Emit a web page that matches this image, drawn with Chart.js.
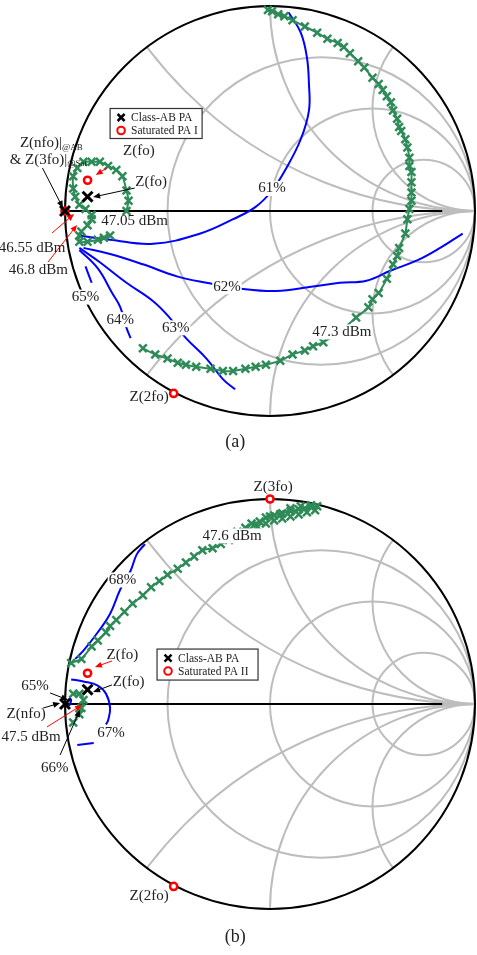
<!DOCTYPE html>
<html>
<head>
<meta charset="utf-8">
<script src="https://cdn.jsdelivr.net/npm/chart.js@4.4.0/dist/chart.umd.min.js"></script>
<style>
  html, body { margin: 0; padding: 0; background: #fff; }
  body { width: 477px; height: 955px; position: relative; overflow: hidden; }
  canvas { position: absolute; left: 0; }
  #smithA { top: 0; }
  #smithB { top: 460px; }
</style>
</head>
<body>
<canvas id="smithA" width="477" height="460"></canvas>
<canvas id="smithB" width="477" height="495"></canvas>
<script>
// Smith chart grid (normalised resistance / reactance circles)
const gridResistance = [1 / 3, 1, 3];
const gridReactance = [0.5, 1, 2];
const realAxisEnd = 0.84;

// ---- Panel (a): reflection coefficient points [re, im] ----
const effA61 = [[0.09,0.97],[0.15,0.87],[0.18,0.75],[0.19,0.62],[0.19,0.49],[0.15,0.35],[0.08,0.21],[0.01,0.10],[-0.07,0.02],[-0.18,-0.04],[-0.34,-0.11],[-0.57,-0.16],[-0.78,-0.14],[-0.93,-0.12]];
const effA62 = [[-0.91,-0.18],[-0.78,-0.21],[-0.62,-0.26],[-0.45,-0.32],[-0.31,-0.35],[-0.13,-0.38],[0.03,-0.39],[0.2,-0.37],[0.34,-0.35],[0.47,-0.34],[0.59,-0.29],[0.72,-0.24],[0.83,-0.18],[0.94,-0.11]];
const effA63 = [[-0.93,-0.18],[-0.83,-0.25],[-0.7,-0.35],[-0.57,-0.44],[-0.49,-0.52],[-0.41,-0.62],[-0.31,-0.72],[-0.23,-0.82],[-0.17,-0.87]];
const effA64 = [[-0.93,-0.19],[-0.84,-0.28],[-0.77,-0.4],[-0.73,-0.47],[-0.7,-0.57],[-0.68,-0.62]];
const effA65 = [[-0.9,-0.27],[-0.87,-0.35]];
const loadPullA1 = [[-0.7,0],[-0.69,0.05],[-0.7,0.1],[-0.72,0.17],[-0.75,0.2],[-0.79,0.22],[-0.83,0.24],[-0.87,0.24],[-0.91,0.24],[-0.94,0.21],[-0.96,0.17],[-0.96,0.11],[-0.95,0.07],[-0.93,0.03],[-0.9,0.01],[-0.87,-0.02],[-0.87,-0.04],[-0.89,-0.07],[-0.92,-0.1],[-0.93,-0.12],[-0.93,-0.15],[-0.89,-0.15],[-0.84,-0.14],[-0.81,-0.13],[-0.78,-0.12]];
const loadPullA2 = [[-0.62,-0.67],[-0.56,-0.7],[-0.5,-0.72],[-0.45,-0.74],[-0.41,-0.75],[-0.36,-0.76],[-0.29,-0.77],[-0.23,-0.78],[-0.18,-0.78],[-0.12,-0.77],[-0.07,-0.76],[-0.02,-0.75],[0.05,-0.73],[0.11,-0.7],[0.17,-0.68],[0.21,-0.66],[0.26,-0.64],[0.34,-0.59],[0.42,-0.52],[0.48,-0.47],[0.5,-0.43],[0.53,-0.4],[0.57,-0.33],[0.6,-0.26],[0.62,-0.22],[0.63,-0.18],[0.66,-0.11],[0.67,-0.04],[0.68,0.01],[0.69,0.05],[0.69,0.09],[0.69,0.14],[0.69,0.19],[0.68,0.22],[0.68,0.26],[0.67,0.31],[0.66,0.35],[0.64,0.39],[0.63,0.41],[0.62,0.45],[0.6,0.49],[0.59,0.53],[0.57,0.56],[0.55,0.59],[0.53,0.62],[0.5,0.65],[0.46,0.7],[0.43,0.73],[0.39,0.77],[0.36,0.8],[0.33,0.82],[0.28,0.84],[0.23,0.87],[0.17,0.9],[0.11,0.93],[0.07,0.95],[0.04,0.96],[0.01,0.975],[-0.01,0.98]];
const classAbA = [[-0.89,0.07],[-1,0]];
const saturatedA = [[-0.89,0.15],[-1,0],[-0.47,-0.89]];

// ---- Panel (b) ----
const effB68 = [[-0.61,0.78],[-0.65,0.73],[-0.68,0.65],[-0.73,0.56],[-0.78,0.44],[-0.84,0.35],[-0.91,0.26],[-0.95,0.22]];
const effB67 = [[-0.97,0.12],[-0.91,0.11],[-0.84,0.09],[-0.8,0.05],[-0.78,-0.02],[-0.79,-0.08],[-0.8,-0.1]];
const effB67b = [[-0.94,-0.2],[-0.86,-0.19]];
const effB65 = [[-0.98,0.03],[-0.97,0.02],[-0.98,-0.01]];
const loadPullB1 = [[-0.96,-0.09],[-0.93,-0.05],[-0.92,-0.02],[-0.91,0.02],[-0.93,0.05],[-0.96,0.05]];
const loadPullB2 = [[-0.97,0.2],[-0.92,0.22],[-0.87,0.28],[-0.84,0.31],[-0.8,0.35],[-0.78,0.38],[-0.75,0.41],[-0.71,0.45],[-0.67,0.49],[-0.62,0.53],[-0.58,0.57],[-0.54,0.6],[-0.5,0.63],[-0.45,0.66],[-0.41,0.69],[-0.37,0.72],[-0.33,0.75],[-0.28,0.76],[-0.24,0.78],[-0.2,0.8],[-0.16,0.84],[-0.12,0.86],[-0.09,0.88],[-0.05,0.89],[-0.02,0.91],[0.02,0.92],[0.06,0.93],[0.1,0.94],[0.14,0.95],[0.17,0.955],[0.2,0.96],[0.23,0.965]];
// dense sweep band near the top of panel (b)
const loadPullB3 = [[-0.1,0.85],[-0.06,0.865],[-0.02,0.88],[0.02,0.895],[0.06,0.905],[0.1,0.915],[0.14,0.925],[0.18,0.935],[0.22,0.945],[0.0,0.915],[0.05,0.925],[0.1,0.955],[0.15,0.965],[0.2,0.97]];
const classAbB = [[-0.89,0.07],[-1,0]];
const saturatedB = [[-0.89,0.15],[0,1],[-0.47,-0.89]];

// Text, arrows and legend for each panel (positions in reflection coefficient units)
const notes = {
  smithA: {
    labels: [
      { at: [-0.64, 0.29], text: 'Z(fo)' },
      { at: [-0.58, 0.14], text: 'Z(fo)' },
      { at: [-0.66, -0.05], text: '47.05 dBm' },
      { at: [-1.16, -0.18], text: '46.55 dBm' },
      { at: [-1.13, -0.29], text: '46.8 dBm' },
      { at: [0.01, 0.11], text: '61%', bg: true },
      { at: [-0.21, -0.37], text: '62%', bg: true },
      { at: [-0.46, -0.57], text: '63%', bg: true },
      { at: [-0.73, -0.53], text: '64%', bg: true },
      { at: [-0.9, -0.42], text: '65%', bg: true },
      { at: [0.35, -0.59], text: '47.3 dBm', bg: true },
      { at: [-0.59, -0.91], text: 'Z(2fo)' },
      { at: [-0.17, -1.13], text: '(a)', size: 18 },
      { at: [-1.22, 0.33], parts: [['Z(nfo)|', 15, 0], ['@AB', 9, 4]] },
      { at: [-1.27, 0.25], parts: [['& Z(3fo)|', 15, 0], ['@Sat', 9, 4]] }
    ],
    arrows: [
      { from: [-1.11, 0.21], to: [-1.01, 0.015], color: '#000' },
      { from: [-0.795, 0.21], to: [-0.85, 0.176], color: '#f00' },
      { from: [-0.66, 0.112], to: [-0.863, 0.068], color: '#000' },
      { from: [-1.063, -0.107], to: [-0.956, -0.015], color: '#f00' },
      { from: [-1.083, -0.249], to: [-0.941, -0.068], color: '#f00' }
    ],
    legend: { at: [-0.78, 0.5], w: 92, h: 30, items: ['Class-AB PA', 'Saturated PA I'] }
  },
  smithB: {
    labels: [
      { at: [0.015, 1.06], text: 'Z(3fo)' },
      { at: [-0.185, 0.82], text: '47.6 dBm', bg: true },
      { at: [-0.72, 0.605], text: '68%', bg: true },
      { at: [-0.72, 0.24], text: 'Z(fo)' },
      { at: [-0.69, 0.107], text: 'Z(fo)' },
      { at: [-1.146, 0.088], text: '65%' },
      { at: [-1.19, -0.05], text: 'Z(nfo)' },
      { at: [-1.166, -0.161], text: '47.5 dBm' },
      { at: [-0.776, -0.141], text: '67%', bg: true },
      { at: [-1.05, -0.312], text: '66%' },
      { at: [-0.59, -0.937], text: 'Z(2fo)' },
      { at: [-0.17, -1.137], text: '(b)', size: 18 }
    ],
    arrows: [
      { from: [-0.771, 0.21], to: [-0.854, 0.18], color: '#f00' },
      { from: [-0.771, 0.093], to: [-0.863, 0.059], color: '#000' },
      { from: [-1.073, 0.054], to: [-0.985, 0.02], color: '#000' },
      { from: [-1.107, -0.02], to: [-1.024, 0.005], color: '#000' },
      { from: [-1.088, -0.112], to: [-0.917, -0.005], color: '#f00' },
      { from: [-1.024, -0.249], to: [-0.927, -0.029], color: '#000' }
    ],
    legend: { at: [-0.551, 0.268], w: 101, h: 31, items: ['Class-AB PA', 'Saturated PA II'] }
  }
};

const FONT = '"Liberation Serif", "Times New Roman", serif';
const GREEN = '#2e8b57';
const BLUE = '#0000ff';

const pts = arr => arr.map(p => ({ x: p[0], y: p[1] }));

// Draw grid circles behind the data
const smithGrid = {
  id: 'smithGrid',
  beforeDatasetsDraw(chart) {
    const { ctx, scales: { x, y } } = chart;
    const cx = x.getPixelForValue(0), cy = y.getPixelForValue(0);
    const R = x.getPixelForValue(1) - cx;

    ctx.save();
    ctx.beginPath();
    ctx.arc(cx, cy, R, 0, 2 * Math.PI);
    ctx.clip();
    ctx.strokeStyle = '#bdbdbd';
    ctx.lineWidth = 2;
    gridResistance.forEach(r => {
      ctx.beginPath();
      ctx.arc(x.getPixelForValue(r / (r + 1)), cy, R / (r + 1), 0, 2 * Math.PI);
      ctx.stroke();
    });
    gridReactance.forEach(xv => {
      [1, -1].forEach(s => {
        ctx.beginPath();
        ctx.arc(x.getPixelForValue(1), y.getPixelForValue(s / xv), R / xv, 0, 2 * Math.PI);
        ctx.stroke();
      });
    });
    ctx.beginPath();
    ctx.moveTo(x.getPixelForValue(-1), cy);
    ctx.lineTo(x.getPixelForValue(1), cy);
    ctx.stroke();
    ctx.restore();

    ctx.save();
    ctx.strokeStyle = '#000';
    ctx.lineWidth = 2;
    ctx.beginPath();
    ctx.moveTo(x.getPixelForValue(-1), cy);
    ctx.lineTo(x.getPixelForValue(realAxisEnd), cy);
    ctx.stroke();
    ctx.beginPath();
    ctx.arc(cx, cy, R, 0, 2 * Math.PI);
    ctx.stroke();
    ctx.restore();
  }
};

function drawArrow(ctx, x1, y1, x2, y2, color) {
  const a = Math.atan2(y2 - y1, x2 - x1);
  ctx.strokeStyle = color;
  ctx.fillStyle = color;
  ctx.lineWidth = 1;
  ctx.beginPath();
  ctx.moveTo(x1, y1);
  ctx.lineTo(x2 - 4 * Math.cos(a), y2 - 4 * Math.sin(a));
  ctx.stroke();
  ctx.beginPath();
  ctx.moveTo(x2, y2);
  ctx.lineTo(x2 - 7 * Math.cos(a) + 3 * Math.sin(a), y2 - 7 * Math.sin(a) - 3 * Math.cos(a));
  ctx.lineTo(x2 - 7 * Math.cos(a) - 3 * Math.sin(a), y2 - 7 * Math.sin(a) + 3 * Math.cos(a));
  ctx.closePath();
  ctx.fill();
}

// Labels, arrows and legend on top
const smithNotes = {
  id: 'smithNotes',
  afterDatasetsDraw(chart) {
    const note = notes[chart.canvas.id];
    const { ctx, scales: { x, y } } = chart;
    const px = p => [x.getPixelForValue(p[0]), y.getPixelForValue(p[1])];
    ctx.save();

    note.arrows.forEach(a => {
      const [x1, y1] = px(a.from);
      const [x2, y2] = px(a.to);
      drawArrow(ctx, x1, y1, x2, y2, a.color);
    });

    ctx.textBaseline = 'middle';
    note.labels.forEach(l => {
      let [lx, ly] = px(l.at);
      if (l.parts) {
        ctx.textAlign = 'left';
        l.parts.forEach(([t, size, dy]) => {
          ctx.font = size + 'px ' + FONT;
          ctx.fillStyle = '#222';
          ctx.fillText(t, lx, ly + dy);
          lx += ctx.measureText(t).width;
        });
        return;
      }
      const size = l.size || 15;
      ctx.font = size + 'px ' + FONT;
      ctx.textAlign = 'center';
      if (l.bg) {
        const w = ctx.measureText(l.text).width;
        ctx.fillStyle = '#fff';
        ctx.fillRect(lx - w / 2 - 1, ly - size / 2, w + 2, size);
      }
      ctx.fillStyle = '#222';
      ctx.fillText(l.text, lx, ly);
    });

    // legend box
    const lg = note.legend;
    const [bx, by] = px(lg.at);
    ctx.fillStyle = '#fff';
    ctx.fillRect(bx, by, lg.w, lg.h);
    ctx.strokeStyle = '#333';
    ctx.lineWidth = 1.2;
    ctx.strokeRect(bx, by, lg.w, lg.h);
    ctx.font = '11.5px ' + FONT;
    ctx.textAlign = 'left';
    lg.items.forEach((t, i) => {
      const my = by + 9 + i * 13;
      const mx = bx + 11;
      if (i === 0) {
        ctx.strokeStyle = '#000';
        ctx.lineWidth = 2.5;
        ctx.beginPath();
        ctx.moveTo(mx - 3.5, my - 3.5); ctx.lineTo(mx + 3.5, my + 3.5);
        ctx.moveTo(mx + 3.5, my - 3.5); ctx.lineTo(mx - 3.5, my + 3.5);
        ctx.stroke();
      } else {
        ctx.strokeStyle = '#f00';
        ctx.lineWidth = 2;
        ctx.beginPath();
        ctx.arc(mx, my, 3.8, 0, 2 * Math.PI);
        ctx.stroke();
      }
      ctx.fillStyle = '#222';
      ctx.fillText(t, bx + 21, my + 0.5);
    });
    ctx.restore();
  }
};

function contour(data) {
  return {
    data: pts(data), showLine: true, borderColor: BLUE, borderWidth: 2,
    pointRadius: 0, tension: 0.4, clip: false
  };
}

function trajectory(data, line = true) {
  return {
    data: pts(data), showLine: line, borderColor: GREEN, borderWidth: 2,
    pointStyle: 'crossRot', pointRadius: 5.5, pointBorderWidth: 2.5,
    pointBorderColor: GREEN, tension: 0.2, clip: false
  };
}

function markers(data, style) {
  if (style === 'x') {
    return {
      data: pts(data), showLine: false, pointStyle: 'crossRot', pointRadius: 7,
      pointBorderWidth: 3, pointBorderColor: '#000', clip: false
    };
  }
  return {
    data: pts(data), showLine: false, pointStyle: 'circle', pointRadius: 3.6,
    pointBorderWidth: 2.5, pointBorderColor: '#f00', pointBackgroundColor: '#fff', clip: false
  };
}

function makeSmith(id, datasets, pad) {
  return new Chart(document.getElementById(id), {
    type: 'scatter',
    data: { datasets: datasets },
    options: {
      responsive: false,
      animation: false,
      devicePixelRatio: 1,
      layout: { padding: pad, autoPadding: false },
      plugins: { legend: { display: false }, tooltip: { enabled: false } },
      scales: {
        x: { type: 'linear', min: -1, max: 1, display: false },
        y: { type: 'linear', min: -1, max: 1, display: false }
      }
    },
    plugins: [smithGrid, smithNotes]
  });
}

makeSmith('smithA', [
  markers(classAbA, 'x'),
  markers(saturatedA, 'o'),
  trajectory(loadPullA1),
  trajectory(loadPullA2),
  contour(effA61), contour(effA62), contour(effA63), contour(effA64), contour(effA65)
], { left: 65, right: 2, top: 6, bottom: 44 });

makeSmith('smithB', [
  markers(classAbB, 'x'),
  markers(saturatedB, 'o'),
  trajectory(loadPullB1),
  trajectory(loadPullB2),
  trajectory(loadPullB3, false),
  contour(effB68), contour(effB67), contour(effB67b), contour(effB65)
], { left: 65, right: 2, top: 39, bottom: 46 });
</script>
</body>
</html>
